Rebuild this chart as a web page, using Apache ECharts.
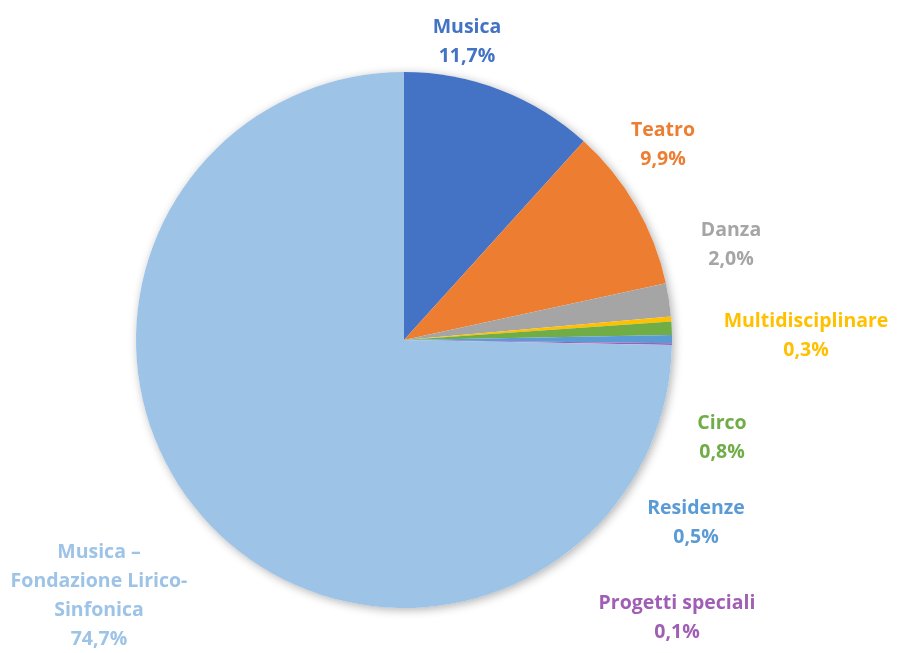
<!DOCTYPE html>
<html>
<head>
<meta charset="utf-8">
<script src="https://cdn.jsdelivr.net/npm/echarts@6/dist/echarts.min.js"></script>
<style>
  html, body { margin: 0; padding: 0; background: #fff; }
  #main { width: 898px; height: 653px; }
</style>
</head>
<body>
<div id="main"></div>
<script>
var categories = ['Musica', 'Teatro', 'Danza', 'Multidisciplinare', 'Circo', 'Residenze',
  'Progetti speciali', 'Musica –\nFondazione Lirico-\nSinfonica'];
var shares = [11.7, 9.9, 2.0, 0.3, 0.8, 0.5, 0.1, 74.7];
var colors = ['#4472C4', '#ED7D31', '#A5A5A5', '#FFC000', '#70AD47', '#5B9BD5', '#A05FB4', '#9DC3E6'];

// label centres (Excel-style placement)
var labelSpots = [[467, 42], [663, 145], [731, 245], [806, 336], [722, 438], [696, 523], [677, 618], [99, 596]];

var myChart = echarts.init(document.getElementById('main'));

var pieData = categories.map(function (name, i) {
  return {
    name: name,
    value: shares[i],
    itemStyle: { color: colors[i] },
    label: { color: colors[i] }
  };
});

var option = {
  backgroundColor: '#fff',
  animation: false,
  series: [
    {
      // soft shadow under the whole pie
      type: 'pie',
      silent: true,
      center: [404, 340],
      radius: 268,
      z: 1,
      label: { show: false },
      labelLine: { show: false },
      itemStyle: {
        color: '#fff',
        shadowBlur: 10,
        shadowOffsetX: 2,
        shadowOffsetY: 2,
        shadowColor: 'rgba(0,0,0,0.3)'
      },
      data: [{ value: 1, name: '' }]
    },
    {
      type: 'pie',
      center: [404, 340],
      radius: 268,
      z: 2,
      startAngle: 90,
      clockwise: true,
      avoidLabelOverlap: false,
      itemStyle: { borderWidth: 0 },
      label: {
        show: true,
        position: 'outside',
        fontFamily: 'Open Sans',
        fontWeight: 'bold',
        fontSize: 19.5,
        lineHeight: 29,
        align: 'center',
        formatter: function (p) {
          return p.name + '\n' + p.value.toFixed(1).replace('.', ',') + '%';
        }
      },
      labelLine: { show: false },
      labelLayout: function (params) {
        var s = labelSpots[params.dataIndex];
        return { x: s[0], y: s[1], align: 'center', verticalAlign: 'middle' };
      },
      data: pieData
    }
  ]
};

myChart.setOption(option);
</script>
</body>
</html>
